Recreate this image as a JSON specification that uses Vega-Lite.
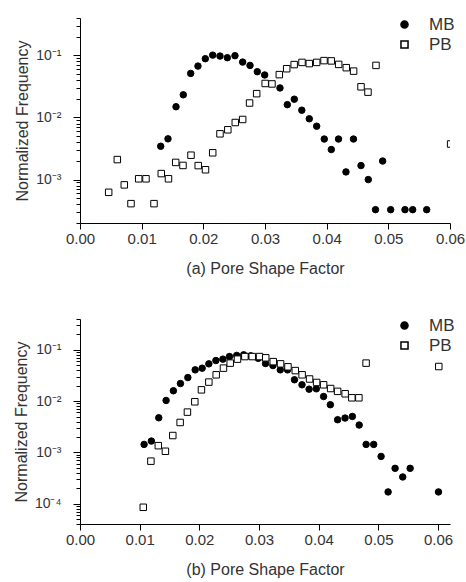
{
  "$schema": "https://vega.github.io/schema/vega-lite/v6.json",
  "padding": {"left": 13, "top": 11, "right": 5, "bottom": 5},
  "spacing": 36,
  "config": {
    "view": {"stroke": null},
    "font": "Liberation Sans",
    "axis": {
      "grid": false,
      "domainColor": "black",
      "tickColor": "black",
      "labelColor": "#333",
      "titleColor": "#333",
      "labelFontSize": 15,
      "titleFontSize": 16,
      "titleFontWeight": "normal",
      "labelFont": "Liberation Sans",
      "titleFont": "Liberation Sans"
    },
    "legend": {"labelFont": "Liberation Sans"}
  },
  "datasets": {
    "a": [
      {"series": "MB", "x": 0.01309, "y": 0.00344},
      {"series": "MB", "x": 0.01427, "y": 0.00453},
      {"series": "MB", "x": 0.01557, "y": 0.0149},
      {"series": "MB", "x": 0.01675, "y": 0.0232},
      {"series": "MB", "x": 0.01795, "y": 0.0513},
      {"series": "MB", "x": 0.01913, "y": 0.0672},
      {"series": "MB", "x": 0.02032, "y": 0.0885},
      {"series": "MB", "x": 0.02152, "y": 0.101},
      {"series": "MB", "x": 0.0227, "y": 0.0975},
      {"series": "MB", "x": 0.02389, "y": 0.0918},
      {"series": "MB", "x": 0.02513, "y": 0.0989},
      {"series": "MB", "x": 0.02638, "y": 0.078},
      {"series": "MB", "x": 0.02757, "y": 0.069},
      {"series": "MB", "x": 0.02875, "y": 0.0546},
      {"series": "MB", "x": 0.02995, "y": 0.0484},
      {"series": "MB", "x": 0.03243, "y": 0.0299},
      {"series": "MB", "x": 0.03362, "y": 0.0161},
      {"series": "MB", "x": 0.03475, "y": 0.0197},
      {"series": "MB", "x": 0.03597, "y": 0.0131},
      {"series": "MB", "x": 0.03718, "y": 0.00953},
      {"series": "MB", "x": 0.03838, "y": 0.00724},
      {"series": "MB", "x": 0.03961, "y": 0.0045},
      {"series": "MB", "x": 0.04075, "y": 0.00305},
      {"series": "MB", "x": 0.04192, "y": 0.0045},
      {"series": "MB", "x": 0.04313, "y": 0.00133},
      {"series": "MB", "x": 0.04435, "y": 0.0045},
      {"series": "MB", "x": 0.04557, "y": 0.00168},
      {"series": "MB", "x": 0.04675, "y": 0.001},
      {"series": "MB", "x": 0.04792, "y": 0.000328},
      {"series": "MB", "x": 0.04908, "y": 0.00199},
      {"series": "MB", "x": 0.05038, "y": 0.000328},
      {"series": "MB", "x": 0.0527, "y": 0.000328},
      {"series": "MB", "x": 0.05395, "y": 0.000328},
      {"series": "MB", "x": 0.05622, "y": 0.000328},
      {"series": "PB", "x": 0.00465, "y": 0.000624},
      {"series": "PB", "x": 0.00605, "y": 0.0021},
      {"series": "PB", "x": 0.00718, "y": 0.000822},
      {"series": "PB", "x": 0.00827, "y": 0.00041},
      {"series": "PB", "x": 0.00952, "y": 0.00103},
      {"series": "PB", "x": 0.0107, "y": 0.00103},
      {"series": "PB", "x": 0.012, "y": 0.00041},
      {"series": "PB", "x": 0.01318, "y": 0.00125},
      {"series": "PB", "x": 0.01435, "y": 0.00103},
      {"series": "PB", "x": 0.01552, "y": 0.00189},
      {"series": "PB", "x": 0.0167, "y": 0.00169},
      {"series": "PB", "x": 0.018, "y": 0.00247},
      {"series": "PB", "x": 0.01917, "y": 0.00168},
      {"series": "PB", "x": 0.02035, "y": 0.00144},
      {"series": "PB", "x": 0.02152, "y": 0.0027},
      {"series": "PB", "x": 0.0227, "y": 0.00546},
      {"series": "PB", "x": 0.02397, "y": 0.00634},
      {"series": "PB", "x": 0.02518, "y": 0.0083},
      {"series": "PB", "x": 0.02638, "y": 0.00929},
      {"series": "PB", "x": 0.0275, "y": 0.0171},
      {"series": "PB", "x": 0.02865, "y": 0.0242},
      {"series": "PB", "x": 0.03003, "y": 0.0353},
      {"series": "PB", "x": 0.03113, "y": 0.0347},
      {"series": "PB", "x": 0.03232, "y": 0.049},
      {"series": "PB", "x": 0.03352, "y": 0.061},
      {"series": "PB", "x": 0.03473, "y": 0.0711},
      {"series": "PB", "x": 0.036, "y": 0.0771},
      {"series": "PB", "x": 0.03718, "y": 0.0738},
      {"series": "PB", "x": 0.03838, "y": 0.0771},
      {"series": "PB", "x": 0.03957, "y": 0.0824},
      {"series": "PB", "x": 0.04075, "y": 0.0815},
      {"series": "PB", "x": 0.04195, "y": 0.0716},
      {"series": "PB", "x": 0.04318, "y": 0.0634},
      {"series": "PB", "x": 0.04437, "y": 0.0558},
      {"series": "PB", "x": 0.04557, "y": 0.0312},
      {"series": "PB", "x": 0.0467, "y": 0.0256},
      {"series": "PB", "x": 0.048, "y": 0.069},
      {"series": "PB", "x": 0.0601, "y": 0.00374}
    ],
    "b": [
      {"series": "MB", "x": 0.01074, "y": 0.00143},
      {"series": "MB", "x": 0.01196, "y": 0.00166},
      {"series": "MB", "x": 0.0132, "y": 0.00473},
      {"series": "MB", "x": 0.01443, "y": 0.0103},
      {"series": "MB", "x": 0.01565, "y": 0.0159},
      {"series": "MB", "x": 0.01683, "y": 0.022},
      {"series": "MB", "x": 0.01807, "y": 0.0288},
      {"series": "MB", "x": 0.0193, "y": 0.0407},
      {"series": "MB", "x": 0.02047, "y": 0.0439},
      {"series": "MB", "x": 0.02159, "y": 0.0533},
      {"series": "MB", "x": 0.02277, "y": 0.0619},
      {"series": "MB", "x": 0.02394, "y": 0.0659},
      {"series": "MB", "x": 0.02505, "y": 0.074},
      {"series": "MB", "x": 0.02626, "y": 0.078},
      {"series": "MB", "x": 0.02743, "y": 0.08},
      {"series": "MB", "x": 0.02861, "y": 0.0764},
      {"series": "MB", "x": 0.02987, "y": 0.0683},
      {"series": "MB", "x": 0.03109, "y": 0.0541},
      {"series": "MB", "x": 0.03233, "y": 0.0494},
      {"series": "MB", "x": 0.03356, "y": 0.0407},
      {"series": "MB", "x": 0.03478, "y": 0.0407},
      {"series": "MB", "x": 0.03594, "y": 0.0261},
      {"series": "MB", "x": 0.0372, "y": 0.0208},
      {"series": "MB", "x": 0.03839, "y": 0.0171},
      {"series": "MB", "x": 0.0396, "y": 0.0174},
      {"series": "MB", "x": 0.04082, "y": 0.0123},
      {"series": "MB", "x": 0.04195, "y": 0.0085},
      {"series": "MB", "x": 0.04317, "y": 0.00433},
      {"series": "MB", "x": 0.04441, "y": 0.00467},
      {"series": "MB", "x": 0.04564, "y": 0.00502},
      {"series": "MB", "x": 0.04678, "y": 0.00341},
      {"series": "MB", "x": 0.04794, "y": 0.00143},
      {"series": "MB", "x": 0.04921, "y": 0.00143},
      {"series": "MB", "x": 0.05045, "y": 0.000834},
      {"series": "MB", "x": 0.05163, "y": 0.000169},
      {"series": "MB", "x": 0.0528, "y": 0.000488},
      {"series": "MB", "x": 0.05408, "y": 0.000331},
      {"series": "MB", "x": 0.05532, "y": 0.000488},
      {"series": "MB", "x": 0.06007, "y": 0.000169},
      {"series": "PB", "x": 0.0106, "y": 0.0000848},
      {"series": "PB", "x": 0.01188, "y": 0.000673},
      {"series": "PB", "x": 0.01312, "y": 0.00135},
      {"series": "PB", "x": 0.01431, "y": 0.00105},
      {"series": "PB", "x": 0.01555, "y": 0.00213},
      {"series": "PB", "x": 0.01678, "y": 0.00383},
      {"series": "PB", "x": 0.018, "y": 0.0061},
      {"series": "PB", "x": 0.01924, "y": 0.0097},
      {"series": "PB", "x": 0.02035, "y": 0.0166},
      {"series": "PB", "x": 0.02159, "y": 0.0235},
      {"series": "PB", "x": 0.02282, "y": 0.0326},
      {"series": "PB", "x": 0.02404, "y": 0.044},
      {"series": "PB", "x": 0.02517, "y": 0.0551},
      {"series": "PB", "x": 0.02639, "y": 0.0659},
      {"series": "PB", "x": 0.02763, "y": 0.074},
      {"series": "PB", "x": 0.02886, "y": 0.074},
      {"series": "PB", "x": 0.03008, "y": 0.074},
      {"series": "PB", "x": 0.03112, "y": 0.0699},
      {"series": "PB", "x": 0.03238, "y": 0.0589},
      {"series": "PB", "x": 0.03361, "y": 0.0533},
      {"series": "PB", "x": 0.03485, "y": 0.0467},
      {"series": "PB", "x": 0.03607, "y": 0.0394},
      {"series": "PB", "x": 0.03722, "y": 0.0326},
      {"series": "PB", "x": 0.03847, "y": 0.027},
      {"series": "PB", "x": 0.03965, "y": 0.0231},
      {"series": "PB", "x": 0.04082, "y": 0.0208},
      {"series": "PB", "x": 0.042, "y": 0.0176},
      {"series": "PB", "x": 0.04317, "y": 0.0155},
      {"series": "PB", "x": 0.04443, "y": 0.0139},
      {"series": "PB", "x": 0.04555, "y": 0.0116},
      {"series": "PB", "x": 0.04673, "y": 0.0116},
      {"series": "PB", "x": 0.04794, "y": 0.0551},
      {"series": "PB", "x": 0.06012, "y": 0.0473}
    ]
  },
  "vconcat": [
    {
      "data": {"name": "a"},
      "width": 370,
      "height": 205,
      "mark": {"type": "point", "filled": true, "stroke": "black", "strokeWidth": 1, "size": 42, "opacity": 1, "clip": true},
      "encoding": {
        "x": {
          "field": "x", "type": "quantitative",
          "scale": {"domain": [0, 0.06], "nice": false, "zero": false},
          "axis": {"values": [0, 0.01, 0.02, 0.03, 0.04, 0.05, 0.06], "format": ".2f", "title": "(a) Pore Shape Factor", "tickSize": 6, "labelPadding": 2, "titlePadding": 14, "labelFlush": false}
        },
        "y": {
          "field": "y", "type": "quantitative",
          "scale": {"type": "log", "domain": [0.0002, 0.4], "nice": false},
          "axis": {
            "title": "Normalized Frequency",
            "values": [0.0002, 0.0003, 0.0004, 0.0005, 0.0006, 0.0007, 0.0008, 0.0009, 0.001, 0.002, 0.003, 0.004, 0.005, 0.006, 0.007, 0.008, 0.009, 0.01, 0.02, 0.03, 0.04, 0.05, 0.06, 0.07, 0.08, 0.09, 0.1, 0.2, 0.3, 0.4],
            "labelExpr": "abs(log(datum.value)/LN10 - round(log(datum.value)/LN10)) < 0.001 ? '10⁻' + ['⁰','¹','²','³','⁴','⁵'][round(-log(datum.value)/LN10)] : ''",
            "tickSize": {"condition": {"test": "abs(log(datum.value)/LN10 - round(log(datum.value)/LN10)) < 0.001", "value": 7}, "value": 4},
            "labelFontSize": 14, "labelPadding": 12, "titlePadding": 5, "labelOverlap": false, "labelFlush": false
          }
        },
        "fill": {
          "field": "series", "type": "nominal",
          "scale": {"domain": ["MB", "PB"], "range": ["black", "white"]},
          "legend": {"title": null, "orient": "none", "legendX": 316, "legendY": -2, "labelFontSize": 17, "labelColor": "#333", "symbolSize": 50, "labelOffset": 16, "rowPadding": 2, "padding": 0, "encode": {"symbols": {"update": {"stroke": {"value": "black"}, "strokeWidth": {"value": 1}}}}}
        },
        "shape": {
          "field": "series", "type": "nominal",
          "scale": {"domain": ["MB", "PB"], "range": ["circle", "square"]},
          "legend": {"title": null, "orient": "none", "legendX": 316, "legendY": -2, "labelFontSize": 17, "labelColor": "#333", "symbolSize": 50, "labelOffset": 16, "rowPadding": 2, "padding": 0, "encode": {"symbols": {"update": {"stroke": {"value": "black"}, "strokeWidth": {"value": 1}}}}}
        }
      }
    },
    {
      "data": {"name": "b"},
      "width": 370,
      "height": 205,
      "mark": {"type": "point", "filled": true, "stroke": "black", "strokeWidth": 1, "size": 42, "opacity": 1, "clip": true},
      "encoding": {
        "x": {
          "field": "x", "type": "quantitative",
          "scale": {"domain": [0, 0.062], "nice": false, "zero": false},
          "axis": {"values": [0, 0.01, 0.02, 0.03, 0.04, 0.05, 0.06], "format": ".2f", "title": "(b) Pore Shape Factor", "tickSize": 6, "labelPadding": 2, "titlePadding": 14, "labelFlush": false}
        },
        "y": {
          "field": "y", "type": "quantitative",
          "scale": {"type": "log", "domain": [0.00004, 0.4], "nice": false},
          "axis": {
            "title": "Normalized Frequency",
            "values": [0.00004, 0.00005, 0.00006, 0.00007, 0.00008, 0.00009, 0.0001, 0.0002, 0.0003, 0.0004, 0.0005, 0.0006, 0.0007, 0.0008, 0.0009, 0.001, 0.002, 0.003, 0.004, 0.005, 0.006, 0.007, 0.008, 0.009, 0.01, 0.02, 0.03, 0.04, 0.05, 0.06, 0.07, 0.08, 0.09, 0.1, 0.2, 0.3, 0.4],
            "labelExpr": "abs(log(datum.value)/LN10 - round(log(datum.value)/LN10)) < 0.001 ? '10⁻' + ['⁰','¹','²','³','⁴','⁵'][round(-log(datum.value)/LN10)] : ''",
            "tickSize": {"condition": {"test": "abs(log(datum.value)/LN10 - round(log(datum.value)/LN10)) < 0.001", "value": 7}, "value": 4},
            "labelFontSize": 14, "labelPadding": 12, "titlePadding": 5, "labelOverlap": false, "labelFlush": false
          }
        },
        "fill": {
          "field": "series", "type": "nominal",
          "scale": {"domain": ["MB", "PB"], "range": ["black", "white"]},
          "legend": {"title": null, "orient": "none", "legendX": 316, "legendY": -2, "labelFontSize": 17, "labelColor": "#333", "symbolSize": 50, "labelOffset": 16, "rowPadding": 2, "padding": 0, "encode": {"symbols": {"update": {"stroke": {"value": "black"}, "strokeWidth": {"value": 1}}}}}
        },
        "shape": {
          "field": "series", "type": "nominal",
          "scale": {"domain": ["MB", "PB"], "range": ["circle", "square"]},
          "legend": {"title": null, "orient": "none", "legendX": 316, "legendY": -2, "labelFontSize": 17, "labelColor": "#333", "symbolSize": 50, "labelOffset": 16, "rowPadding": 2, "padding": 0, "encode": {"symbols": {"update": {"stroke": {"value": "black"}, "strokeWidth": {"value": 1}}}}}
        }
      }
    }
  ],
  "resolve": {
    "scale": {"x": "independent", "y": "independent", "fill": "independent", "shape": "independent"},
    "legend": {"fill": "independent", "shape": "independent"}
  }
}
